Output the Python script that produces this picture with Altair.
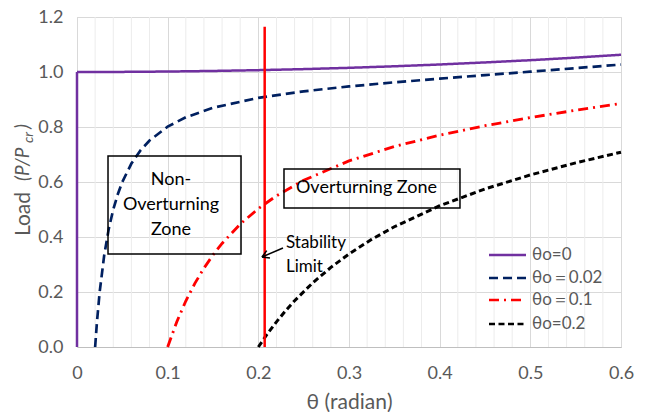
import altair as alt
import pandas as pd

# Load ratio P/Pcr against rotation theta for four initial imperfections
labels = ["θo=0", "θo＝0.02", "θo＝0.1", "θo=0.2"]
colors = ["#7030a0", "#002060", "#ff0000", "#000000"]
dashes = [[1, 0], [9, 5], [10, 5, 2, 5], [6, 3.5]]
widths = [2.5, 3, 2.5, 1.8]

theta_a = [0, 0, 0.05, 0.1, 0.15, 0.2, 0.25, 0.3, 0.35, 0.4, 0.45, 0.5, 0.55, 0.6]
load_a = [0, 1.0, 1.0004, 1.0017, 1.0038, 1.0067, 1.0105, 1.0152, 1.0208, 1.0273,
          1.0348, 1.0429, 1.0523, 1.0627]

theta_b = [0.02, 0.022, 0.025, 0.03, 0.035, 0.04, 0.045, 0.05, 0.06, 0.07, 0.08, 0.1,
           0.12, 0.15, 0.2, 0.25, 0.3, 0.35, 0.4, 0.45, 0.5, 0.55, 0.6]
load_b = [0, 0.0909, 0.2000, 0.3334, 0.4287, 0.5001, 0.5557, 0.6003, 0.6671, 0.7149,
          0.7508, 0.8013, 0.8353, 0.8699, 0.9060, 0.9297, 0.9475, 0.9624, 0.9758,
          0.9886, 1.0012, 1.0140, 1.0272]

theta_c = [0.1, 0.11, 0.12, 0.13, 0.14, 0.15, 0.16, 0.18, 0.2, 0.22, 0.25, 0.3, 0.35,
           0.4, 0.45, 0.5, 0.55, 0.6]
load_c = [0, 0.0911, 0.1671, 0.2314, 0.2866, 0.3346, 0.3766, 0.4469, 0.5033, 0.5499,
          0.6063, 0.6768, 0.7291, 0.7704, 0.8047, 0.8343, 0.8609, 0.8855]

theta_d = [0.2, 0.21, 0.22, 0.23, 0.24, 0.26, 0.28, 0.3, 0.325, 0.35, 0.4, 0.45, 0.5,
           0.55, 0.6]
load_d = [0, 0.0480, 0.0916, 0.1316, 0.1683, 0.2334, 0.2895, 0.3384, 0.3915, 0.4374,
          0.5136, 0.5748, 0.6257, 0.6696, 0.7084]

x_major = [0, 0.1, 0.2, 0.3, 0.4, 0.5, 0.6]
x_minor = [0.02, 0.04, 0.06, 0.08, 0.12, 0.14, 0.16, 0.18, 0.22, 0.24, 0.26, 0.28,
           0.32, 0.34, 0.36, 0.38, 0.42, 0.44, 0.46, 0.48, 0.52, 0.54, 0.56, 0.58]
y_ticks = [0, 0.2, 0.4, 0.6, 0.8, 1.0, 1.2]

# Stability limit line
limit_theta = 0.207
limit_top = 1.165

# Zone boxes
box_x0 = [0.0342, 0.2283]
box_x1 = [0.1809, 0.4224]
box_y0 = [0.3382, 0.5055]
box_y1 = [0.6945, 0.6473]

# Legend row offsets (pixels from the top of the plot area)
legend_rows = [238, 261, 283, 307]

rows = []
for lab, xs, ys in zip(labels, [theta_a, theta_b, theta_c, theta_d],
                       [load_a, load_b, load_c, load_d]):
    for i, (xv, yv) in enumerate(zip(xs, ys)):
        rows.append({"series": lab, "theta": xv, "load": yv, "idx": i})
curves = pd.DataFrame(rows)

FONT = "Lato"
GRAY = "#595959"

xscale = alt.Scale(domain=[0, 0.6], nice=False, zero=False)
yscale = alt.Scale(domain=[0, 1.2], nice=False)
cscale = alt.Scale(domain=labels, range=colors)
dscale = alt.Scale(domain=labels, range=dashes)
wscale = alt.Scale(domain=labels, range=widths)

minor = alt.Chart(pd.DataFrame({"g": x_minor})).mark_rule(
    color="#ececec", strokeWidth=1
).encode(x=alt.X("g:Q", scale=xscale,
                 axis=alt.Axis(values=x_major, grid=True, gridColor="#d9d9d9",
                               labelExpr="datum.value == 0 ? '0' : format(datum.value, '.1f')",
                               ticks=False, domainColor="#bfbfbf", labelPadding=17,
                               labelFlush=False,
                               labelFontSize=18, labelColor=GRAY, labelFont=FONT,
                               title="θ (radian)", titleFont=FONT, titleFontSize=21,
                               titleColor=GRAY, titleFontWeight="normal", titlePadding=9)))

lines = alt.Chart(curves).mark_line(strokeCap="butt").encode(
    x=alt.X("theta:Q", scale=xscale),
    y=alt.Y("load:Q", scale=yscale,
            axis=alt.Axis(values=y_ticks, format=".1f", grid=True, gridColor="#d9d9d9",
                          ticks=False, domainColor="#d9d9d9", labelPadding=14,
                          labelFlush=False,
                          labelFontSize=18, labelColor=GRAY, labelFont=FONT, title=None)),
    color=alt.Color("series:N", scale=cscale, legend=None),
    strokeDash=alt.StrokeDash("series:N", scale=dscale, legend=None),
    strokeWidth=alt.StrokeWidth("series:N", scale=wscale, legend=None),
    order="idx:Q",
)

# Legend: a short line sample and a label per series
leg = pd.DataFrame({"series": labels, "py": legend_rows})
leg_lines = alt.Chart(leg).mark_rule(strokeCap="butt").encode(
    x=alt.value(412), x2=alt.value(449),
    y=alt.Y("py:Q", scale=None),
    color=alt.Color("series:N", scale=cscale, legend=None),
    strokeDash=alt.StrokeDash("series:N", scale=dscale, legend=None),
    strokeWidth=alt.value(2.5),
)
leg_text = alt.Chart(leg).mark_text(font=FONT, fontSize=17, color=GRAY, align="left",
                                    baseline="middle").encode(
    x=alt.value(455), y=alt.Y("py:Q", scale=None), text="series:N")

limit = alt.Chart(pd.DataFrame({"x": [limit_theta], "y0": [0], "y1": [limit_top]})).mark_rule(
    color="#ff0000", strokeWidth=2.5
).encode(x=alt.X("x:Q", scale=xscale), y=alt.Y("y0:Q", scale=yscale), y2="y1:Q")

boxes = alt.Chart(pd.DataFrame({"x0": box_x0, "x1": box_x1, "y0": box_y0, "y1": box_y1})).mark_rect(
    fillOpacity=0, stroke="black", strokeWidth=1.5
).encode(x=alt.X("x0:Q", scale=xscale), x2="x1:Q",
         y=alt.Y("y0:Q", scale=yscale), y2="y1:Q")

zone_text = alt.Chart(pd.DataFrame({
    "x": [0.1037, 0.3193],
    "y": [0.6073, 0.578],
    "t": [["Non-", "Overturning", "Zone"], ["Overturning Zone"]],
})).mark_text(font=FONT, fontSize=18, color="black", lineHeight=25,
              align="center", baseline="middle").encode(
    x=alt.X("x:Q", scale=xscale), y=alt.Y("y:Q", scale=yscale), text="t")

limit_text = alt.Chart(pd.DataFrame({"x": [0.2305], "y": [0.378],
                                     "t": [["Stability", "Limit"]]})).mark_text(
    font=FONT, fontSize=17, color="black", lineHeight=24, align="left", baseline="middle"
).encode(x=alt.X("x:Q", scale=xscale), y=alt.Y("y:Q", scale=yscale), text="t")

# Arrow pointing at the stability limit: shaft plus two head strokes
arrow = alt.Chart(pd.DataFrame({
    "x": [0.2272, 0.2040, 0.2040],
    "y": [0.360, 0.3273, 0.3273],
    "x2": [0.2040, 0.2093, 0.2128],
    "y2": [0.3273, 0.3505, 0.3236],
})).mark_rule(color="black", strokeWidth=1.5).encode(
    x=alt.X("x:Q", scale=xscale), y=alt.Y("y:Q", scale=yscale), x2="x2:Q", y2="y2:Q")

# Vertical axis title: "Load (P/Pcr)" with italic, subscripted ratio
one = pd.DataFrame({"k": [0]})
t_load = alt.Chart(one).mark_text(text="Load", font=FONT, fontSize=21, color=GRAY, angle=270,
                                  align="center", baseline="alphabetic").encode(
    x=alt.value(-47), y=alt.value(197))
t_ratio = alt.Chart(one).mark_text(text="(P/P", font=FONT, fontSize=19, fontStyle="italic",
                                   color=GRAY, angle=270, align="left",
                                   baseline="alphabetic").encode(
    x=alt.value(-48), y=alt.value(164))
t_sub = alt.Chart(one).mark_text(text="cr", font=FONT, fontSize=14, fontStyle="italic",
                                 color=GRAY, angle=270, align="left",
                                 baseline="alphabetic").encode(
    x=alt.value(-44), y=alt.value(126))
t_close = alt.Chart(one).mark_text(text=")", font=FONT, fontSize=19, fontStyle="italic",
                                   color=GRAY, angle=270, align="left",
                                   baseline="alphabetic").encode(
    x=alt.value(-48), y=alt.value(112))

chart = alt.layer(
    minor, lines, leg_lines, leg_text, limit, boxes, zone_text, limit_text, arrow,
    t_load, t_ratio, t_sub, t_close
).resolve_scale(color="shared").properties(
    width=544, height=330,
    autosize=alt.AutoSizeParams(type="none"),
    padding={"left": 77, "top": 17, "right": 26, "bottom": 65},
).configure_view(stroke="#d9d9d9").configure(background="white")

chart.save("out.html", embed_options={"renderer": "svg", "actions": False})
